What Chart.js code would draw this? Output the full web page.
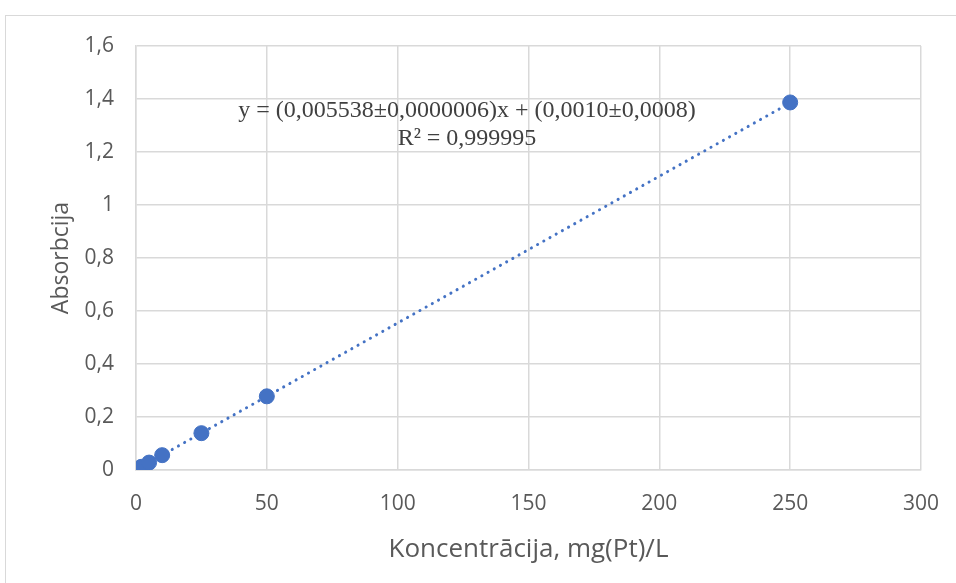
<!DOCTYPE html>
<html>
<head>
<meta charset="utf-8">
<script src="https://cdn.jsdelivr.net/npm/chart.js@4/dist/chart.umd.min.js"></script>
<style>
  html, body { margin: 0; padding: 0; background: #fff; }
  #wrap { width: 956px; height: 583px; position: relative; }
</style>
</head>
<body>
<div id="wrap"><canvas id="grafiks"></canvas></div>
<script>
const koncentracija = [2, 5, 10, 25, 50, 250];
const absorbcija = [0.012, 0.028, 0.056, 0.139, 0.278, 1.387];
const xTicks = [0, 50, 100, 150, 200, 250, 300];
const yTicks = [0, 0.2, 0.4, 0.6, 0.8, 1, 1.2, 1.4, 1.6];
const slope = 0.005538;
const intercept = 0.0010;
const eqLines = ['y = (0,005538\u00b10,0000006)x + (0,0010\u00b10,0008)', 'R\u00b2 = 0,999995'];

const xMin = Math.min(...koncentracija), xMax = Math.max(...koncentracija);
const trend = [
  { x: xMin, y: slope * xMin + intercept },
  { x: xMax, y: slope * xMax + intercept }
];

const tickFont = { family: "'Open Sans', sans-serif", size: 21 };
const grey = '#595959';

// fixed box sizes, no extra label padding
function fixBox(s, w, h) {
  if (w) s.width = w;
  if (h) s.height = h;
  s.paddingLeft = s.paddingRight = s.paddingTop = s.paddingBottom = 0;
}

const frame = {
  id: 'frame',
  beforeDraw(chart) {
    const c = chart.ctx;
    c.save();
    c.fillStyle = '#fff';
    c.fillRect(0, 0, chart.width, chart.height);
    c.strokeStyle = '#d9d9d9';
    c.lineWidth = 1;
    c.strokeRect(5.5, 15.5, 1200, 1200);
    c.restore();
  },
  afterDraw(chart) {
    const c = chart.ctx;
    c.save();
    c.fillStyle = '#404040';
    c.font = "24px 'Liberation Serif', serif";
    c.textAlign = 'center';
    c.textBaseline = 'middle';
    c.fillText(eqLines[0], 467, 111);
    c.fillText(eqLines[1], 467, 139);
    c.restore();
  }
};

const ctx = document.getElementById('grafiks').getContext('2d');
new Chart(ctx, {
  type: 'scatter',
  data: {
    datasets: [{
      label: 'Absorbcija',
      data: koncentracija.map((k, i) => ({ x: k, y: absorbcija[i] })),
      backgroundColor: '#4472c4',
      borderColor: '#4472c4',
      pointRadius: 7.5,
      order: 0
    }, {
      label: 'Trend',
      type: 'line',
      data: trend,
      borderColor: '#4472c4',
      borderWidth: 3,
      borderDash: [0.1, 7],
      borderCapStyle: 'round',
      pointRadius: 0,
      fill: false,
      order: 1
    }]
  },
  options: {
    responsive: true,
    maintainAspectRatio: false,
    animation: false,
    layout: { padding: { left: 0, top: 46, right: 35, bottom: 0 } },
    plugins: {
      legend: { display: false },
      tooltip: { enabled: false }
    },
    scales: {
      x: {
        type: 'linear',
        min: 0,
        max: 300,
        afterBuildTicks: s => { s.ticks = xTicks.map(v => ({ value: v })); },
        afterFit: s => fixBox(s, 0, 113),
        grid: { color: '#d9d9d9', lineWidth: 1.5, drawTicks: false },
        border: { color: '#d9d9d9', width: 1.5 },
        ticks: { color: grey, font: tickFont, padding: 21, maxRotation: 0 },
        title: {
          display: true,
          text: 'Koncentrācija, mg(Pt)/L',
          color: grey,
          font: { family: "'Open Sans', sans-serif", size: 26 },
          padding: { top: 4, bottom: 18 }
        }
      },
      y: {
        min: 0,
        max: 1.6,
        afterBuildTicks: s => { s.ticks = yTicks.map(v => ({ value: v })); },
        afterFit: s => fixBox(s, 136, 0),
        grid: { color: '#d9d9d9', lineWidth: 1.5, drawTicks: false },
        border: { color: '#d9d9d9', width: 1.5 },
        ticks: {
          color: grey,
          font: tickFont,
          padding: 22,
          callback: v => String(Number(v.toFixed(1))).replace('.', ',')
        },
        title: {
          display: true,
          text: 'Absorbcija',
          color: grey,
          font: { family: "'Open Sans', sans-serif", size: 23 },
          padding: { top: 48, bottom: 4 }
        }
      }
    }
  },
  plugins: [frame]
});
</script>
</body>
</html>
